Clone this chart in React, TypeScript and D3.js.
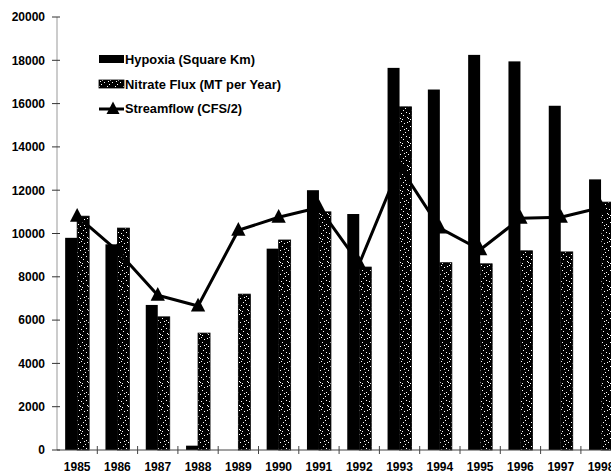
import React from "react";
import * as d3 from "d3";

const years = ["1985","1986","1987","1988","1989","1990","1991","1992","1993","1994","1995","1996","1997","1998"];
const hypoxia = [9800, 9500, 6700, 200, 0, 9300, 12000, 10900, 17650, 16650, 18250, 17950, 15900, 12500];
const nitrate = [10800, 10250, 6150, 5400, 7200, 9700, 11000, 8450, 15850, 8650, 8600, 9200, 9150, 11450];
const streamflow = [10800, 9200, 7150, 6650, 10150, 10750, 11200, 8600, 13100, 10250, 9250, 10700, 10750, 11200];
const yTicks = [0, 2000, 4000, 6000, 8000, 10000, 12000, 14000, 16000, 18000, 20000];
const legendLabels = ["Hypoxia (Square Km)", "Nitrate Flux (MT per Year)", "Streamflow (CFS/2)"];

const W = 611, H = 474;
const x0 = 57, step = 40.3;
const font = "Arial, 'Liberation Sans', Helvetica, sans-serif";

// fixed speckle positions for the nitrate texture
const speckles: [number, number][] = [
  [1, 1], [4, 3], [2, 6], [6, 8], [0, 10], [5, 12], [3, 14], [7, 2], [1, 17], [6, 16], [3, 19], [7, 21], [0, 22], [4, 9], [2, 23]
];

function triangle(cx: number, cy: number, s: number) {
  return `M${cx},${cy - s * 0.75}L${cx + s * 0.65},${cy + s * 0.5}L${cx - s * 0.65},${cy + s * 0.5}Z`;
}

export default function App() {
  const x = d3.scaleBand<string>().domain(years).range([x0, x0 + step * years.length]).padding(0);
  const bw = x.bandwidth();
  const xs = d3.scaleBand<string>().domain(["h", "n"]).range([0, bw]).paddingInner(0).paddingOuter(0.68);
  const y = d3.scaleLinear().domain([0, 20000]).range([450, 17]);
  const line = d3.line<number>()
    .x((_, i) => (x(years[i]) as number) + bw / 2)
    .y((d) => y(d));

  return (
    <svg width={W} height={H} style={{ position: "absolute", left: 0, top: 0, background: "#fff" }}
      fontFamily={font}>
      <defs>
        <pattern id="speck" width="8" height="24" patternUnits="userSpaceOnUse">
          <rect width="8" height="24" fill="#000" />
          {speckles.map(([px, py], i) => (
            <rect key={i} x={px} y={py} width={1} height={1} fill="#fff" />
          ))}
        </pattern>
      </defs>

      {/* y axis */}
      <line x1={x0} x2={x0} y1={y(20000)} y2={y(0)} stroke="#999" strokeWidth={1} />
      {yTicks.map((t) => (
        <g key={t}>
          <line x1={52} x2={60} y1={y(t)} y2={y(t)} stroke="#333" strokeWidth={1} />
          <text x={45} y={y(t)} dy="0.36em" textAnchor="end" fontSize={12} fontWeight="bold" fill="#000">{t}</text>
        </g>
      ))}

      {/* bars */}
      {years.map((yr, i) => (
        <g key={yr}>
          {hypoxia[i] > 0 && (
            <rect x={(x(yr) as number) + (xs("h") as number)} width={xs.bandwidth()}
              y={y(hypoxia[i])} height={y(0) - y(hypoxia[i])} fill="#000" />
          )}
          <rect x={(x(yr) as number) + (xs("n") as number)} width={xs.bandwidth()}
            y={y(nitrate[i])} height={y(0) - y(nitrate[i])} fill="url(#speck)" stroke="#000" strokeWidth={0.8} />
        </g>
      ))}

      {/* x axis */}
      <line x1={x0} x2={W} y1={y(0)} y2={y(0)} stroke="#444" strokeWidth={1} />
      {years.map((yr, i) => (
        <g key={yr}>
          <line x1={(x(yr) as number) + bw} x2={(x(yr) as number) + bw} y1={446} y2={454} stroke="#444" strokeWidth={1} />
          <text x={(x(yr) as number) + bw / 2} y={471} textAnchor="middle" fontSize={12} fontWeight="bold" fill="#000">{yr}</text>
        </g>
      ))}

      {/* streamflow line */}
      <path d={line(streamflow) as string} fill="none" stroke="#000" strokeWidth={3} strokeLinejoin="round" />
      {streamflow.map((v, i) => (
        <path key={i} d={triangle((x(years[i]) as number) + bw / 2, y(v), 11)} fill="#000" />
      ))}

      {/* legend */}
      <g>
        <rect x={99} y={55} width={25} height={8} fill="#000" />
        <text x={125} y={63.5} fontSize={12.3} fontWeight="bold" fill="#000" textLength={130} lengthAdjust="spacingAndGlyphs">{legendLabels[0]}</text>
        <rect x={99} y={80} width={25} height={8} fill="url(#speck)" stroke="#000" strokeWidth={0.8} />
        <text x={125} y={88.5} fontSize={12.3} fontWeight="bold" fill="#000" textLength={156} lengthAdjust="spacingAndGlyphs">{legendLabels[1]}</text>
        <line x1={99} x2={124} y1={109} y2={109} stroke="#000" strokeWidth={3} />
        <path d={triangle(113, 109, 10)} fill="#000" />
        <text x={125} y={113} fontSize={12.3} fontWeight="bold" fill="#000" textLength={117} lengthAdjust="spacingAndGlyphs">{legendLabels[2]}</text>
      </g>
    </svg>
  );
}
